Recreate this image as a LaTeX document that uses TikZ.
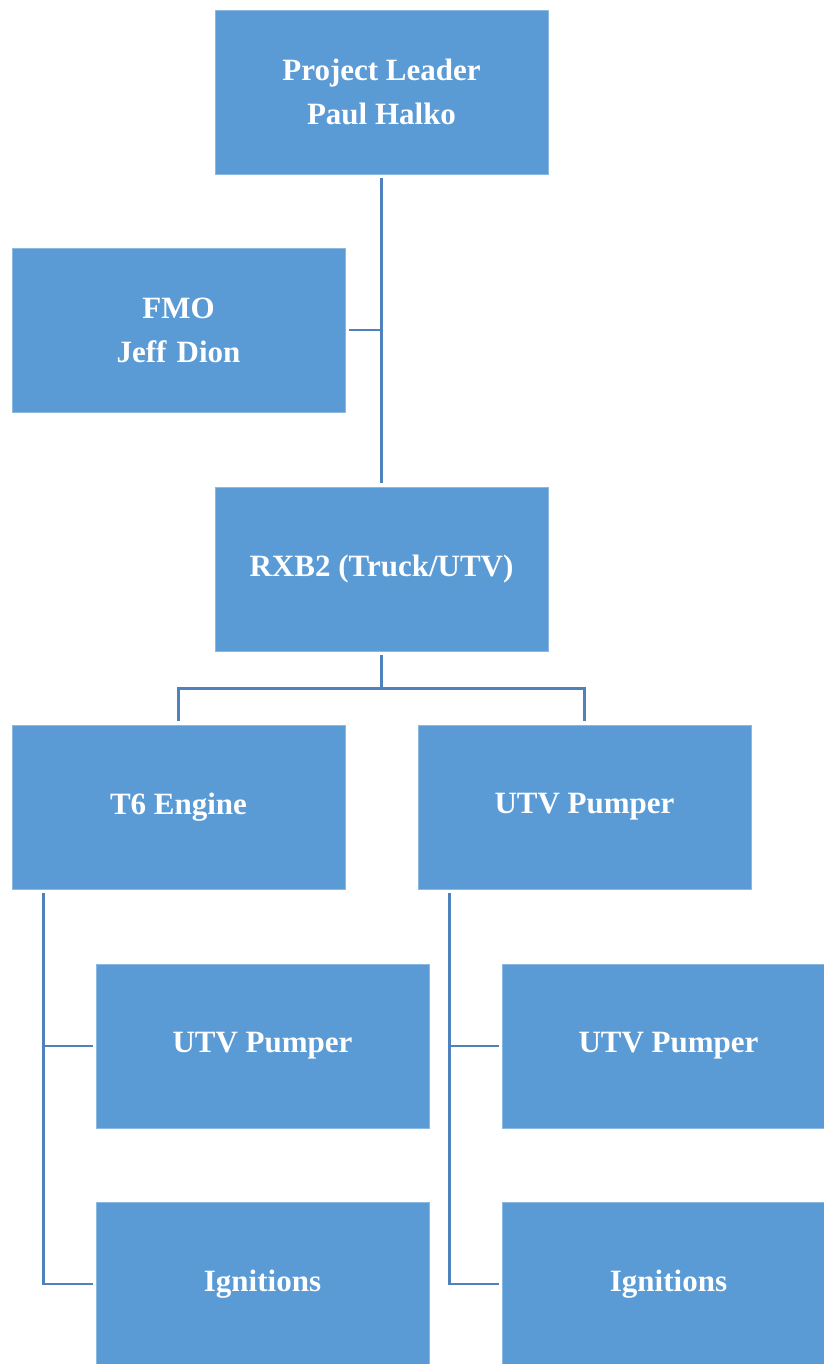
\documentclass[tikz,border=0pt]{standalone}
\usepackage{fontspec}
\setmainfont{Liberation Serif}
\usetikzlibrary{calc}
\definecolor{boxblue}{HTML}{5B9BD5}
\definecolor{lineblue}{HTML}{4F82BD}
\begin{document}
\begin{tikzpicture}[x=1pt,y=-1pt,
  orgbox/.style={fill=boxblue,draw=boxblue!70!white,line width=0.8pt,minimum width=333pt,minimum height=164pt,inner sep=0pt,align=center,text=white,font=\fontsize{31}{44}\selectfont\bfseries},
  conn/.style={draw=lineblue,line width=2.5pt}]
\useasboundingbox (0,0) rectangle (823,1364);
\node[orgbox] (pl) at (381.5,92) {Project Leader\\Paul Halko};
\node[orgbox] (fmo) at (178.5,330) {FMO\\Jeff\,\,Dion};
\node[orgbox] (rx) at (381.5,569) {RXB2 (Truck/UTV)};
\node[orgbox] (t6) at (178.5,807) {T6 Engine};
\node[orgbox] (ut) at (584.5,807) {UTV Pumper};
\node[orgbox] (up1) at (262.5,1046) {UTV Pumper};
\node[orgbox] (ig1) at (262.5,1284) {Ignitions};
\node[orgbox] (up2) at (668.5,1046) {UTV Pumper};
\node[orgbox] (ig2) at (668.5,1284) {Ignitions};
% top spine
\draw[conn] ($(pl.south)+(0,4)$) -- ($(rx.north)+(0,-4)$);
\draw[conn] ($(fmo.east)+(4,0)$) -- (fmo.east -| pl.south);
% split
\coordinate (j) at ($(rx.south)+(0,37)$);
\draw[conn] ($(rx.south)+(0,4)$) -- (j);
\draw[conn] ($(t6.north)+(0,-4)$) |- (j) -| ($(ut.north)+(0,-4)$);
% left subtree
\coordinate (s1) at ($(t6.south west)+(32,4)$);
\draw[conn] (s1) |- ($(ig1.west)+(-3,0)$);
\draw[conn] (s1 |- up1.west) -- ($(up1.west)+(-3,0)$);
% right subtree
\coordinate (s2) at ($(ut.south west)+(32,4)$);
\draw[conn] (s2) |- ($(ig2.west)+(-3,0)$);
\draw[conn] (s2 |- up2.west) -- ($(up2.west)+(-3,0)$);
\end{tikzpicture}
\end{document}
